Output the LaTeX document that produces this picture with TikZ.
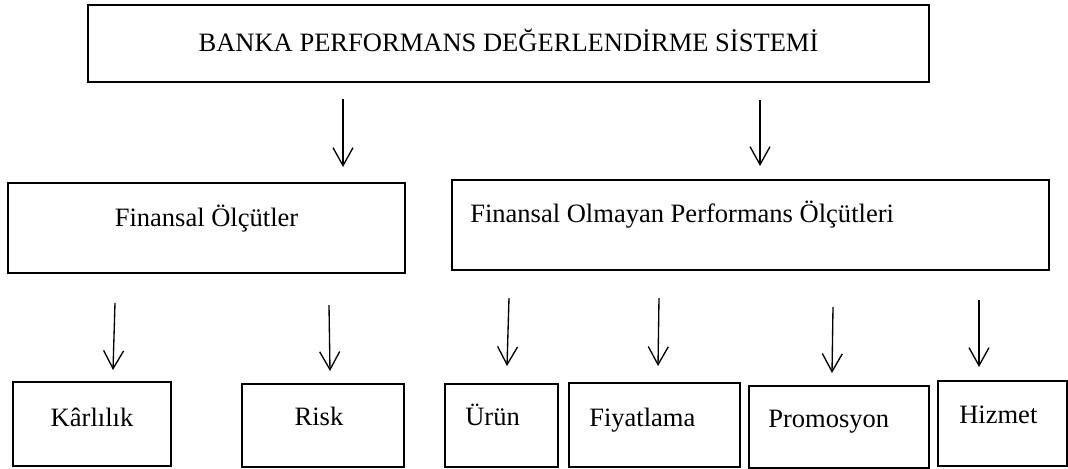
\documentclass[tikz,border=0pt]{standalone}
\usepackage{fontspec}
\setmainfont{Liberation Serif}
\usetikzlibrary{arrows.meta}
\begin{document}
\begin{tikzpicture}[x=0.75pt,y=-0.75pt,
  box/.style={draw, line width=1.5pt, inner sep=0pt, anchor=north west},
  lbl/.style={inner sep=0pt, font=\fontsize{19.9}{24}\selectfont},
  arr/.style={line width=1pt, -{Straight Barb[length=13.5pt,width=15pt]}}]
\useasboundingbox (0,0) rectangle (1068,468);

% level 0
\node[box, minimum width=630.75pt, minimum height=57.75pt] (top) at (87,4) {};
\node[lbl, anchor=base] (tTop) at ([shift={(0,47)}]top.north) {BANKA PERFORMANS DEĞERLENDİRME SİSTEMİ};

% level 1
\node[box, minimum width=297.75pt, minimum height=67.5pt] (fin) at (7,182) {};
\node[lbl, anchor=base] (tFin) at ([shift={(0,44)}]fin.north) {Finansal Ölçütler};
\node[box, minimum width=447.75pt, minimum height=67.5pt] (olm) at (451,179) {};
\node[lbl, anchor=base west] (tOlm) at ([shift={(19,43)}]olm.north west) {Finansal Olmayan Performans Ölçütleri};

% level 2
\node[box, minimum width=118.5pt, minimum height=63pt] (kar) at (12,381) {};
\node[lbl, anchor=base] (tKar) at ([shift={(0,45)}]kar.north) {Kârlılık};
\node[box, minimum width=121.5pt, minimum height=62.25pt] (risk) at (241,383) {};
\node[lbl, anchor=base] (tRisk) at ([shift={(-4,42)}]risk.north) {Risk};
\node[box, minimum width=84.75pt, minimum height=62.25pt] (urun) at (444,383) {};
\node[lbl, anchor=base west] (tUrun) at ([shift={(21,42)}]urun.north west) {Ürün};
\node[box, minimum width=128.25pt, minimum height=63pt] (fiy) at (568,382) {};
\node[lbl, anchor=base west] (tFiy) at ([shift={(21,44)}]fiy.north west) {Fiyatlama};
\node[box, minimum width=135pt, minimum height=61.5pt] (pro) at (748,385) {};
\node[lbl, anchor=base west] (tPro) at ([shift={(20,42)}]pro.north west) {Promosyon};
\node[box, minimum width=96.75pt, minimum height=63.75pt] (hiz) at (937,380) {};
\node[lbl, anchor=base west] (tHiz) at ([shift={(22,43)}]hiz.north west) {Hizmet};

% arrow end points
\coordinate (a1s) at (343,99);  \coordinate (a1e) at (343,167);
\coordinate (a2s) at (760,100); \coordinate (a2e) at (760,166);
\coordinate (b1s) at (115,303); \coordinate (b1e) at (113,370);
\coordinate (b2s) at (329,305); \coordinate (b2e) at (330,371);
\coordinate (b3s) at (509,298); \coordinate (b3e) at (507,366);
\coordinate (b4s) at (659,298); \coordinate (b4e) at (658,366);
\coordinate (b5s) at (833,307); \coordinate (b5e) at (832,373);
\coordinate (b6s) at (979,300); \coordinate (b6e) at (979,367);

\foreach \a in {a1,a2,b1,b2,b3,b4,b5,b6}
  \draw[arr] (\a s) -- (\a e);
\end{tikzpicture}
\end{document}
